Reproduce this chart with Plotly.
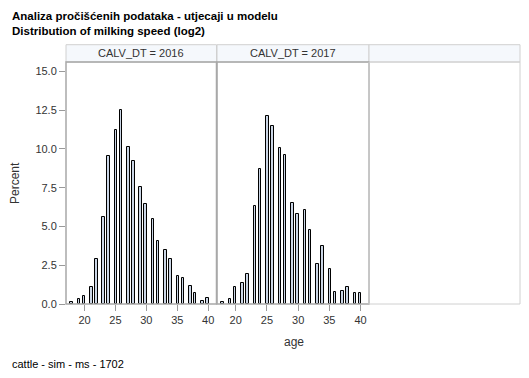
import plotly.graph_objects as go

# ---- data ----
ages = list(range(18, 41))
# histogram bin centres (bin width 0.4) on the age axis
bin_mid = [17.9, 19.1, 19.9, 21.1, 21.9, 23.1, 23.9, 25.1, 25.9, 27.1, 27.9, 29.1,
           29.9, 31.1, 31.9, 33.1, 33.9, 35.1, 35.9, 37.1, 37.9, 39.1, 39.9]
pct_2016 = [0.15, 0.34, 0.54, 1.12, 2.87, 5.58, 9.53, 11.21, 12.50, 10.11, 9.20, 7.52,
            6.42, 5.47, 4.03, 3.45, 2.93, 1.79, 1.70, 1.19, 0.69, 0.22, 0.41]
pct_2017 = [0.15, 0.34, 1.12, 1.38, 1.92, 6.29, 8.69, 12.13, 11.47, 10.04, 9.59, 6.49,
            5.78, 6.03, 4.74, 2.61, 3.77, 2.28, 0.80, 0.86, 1.12, 0.73, 0.73]
panel_labels = ["CALV_DT = 2016", "CALV_DT = 2017", ""]
y_ticks = [0.0, 2.5, 5.0, 7.5, 10.0, 12.5, 15.0]
x_ticks = [20, 25, 30, 35, 40]

# page body has an 8px margin; work in window pixels and shift
OX, OY = 8, 8
W, H = 529 - 2 * OX, 378 - 2 * OY
L, R, T, B = 66, 520, 62, 304          # plot area in window pixels
PW, PH = R - L, B - T

def px(x):
    return (x - L) / PW

def py(y):
    return (B - y) / PH

FONT = "Liberation Sans, Arial, sans-serif"
TXT = "#333333"

fig = go.Figure()
bar_style = dict(marker=dict(color="#cbd6e6", line=dict(color="black", width=1)),
                 width=0.42, showlegend=False, hoverinfo="x+y")
fig.add_trace(go.Bar(x=bin_mid, y=pct_2016, xaxis="x", yaxis="y", **bar_style))
fig.add_trace(go.Bar(x=bin_mid, y=pct_2017, xaxis="x2", yaxis="y", **bar_style))

panel_px = [(66, 216.5), (217, 369), (369, 520)]
doms = [[px(a), px(b)] for a, b in panel_px]

xcommon = dict(range=[17.0, 41.35], tickvals=x_ticks, ticks="outside", ticklen=6,
               tickcolor="#999999", showgrid=False, zeroline=False, showline=False,
               tickfont=dict(family=FONT, size=11, color=TXT))
fig.update_layout(
    width=W, height=H,
    margin=dict(l=L - OX, r=(W + OX) - R, t=T - OY, b=(H + OY) - B, pad=0),
    paper_bgcolor="white", plot_bgcolor="white",
    bargap=0,
    xaxis=dict(domain=doms[0], anchor="y", **xcommon),
    xaxis2=dict(domain=doms[1], anchor="y", **xcommon),
    xaxis3=dict(domain=doms[2], anchor="y", range=[17.0, 41.35], showticklabels=False,
                ticks="", showgrid=False, zeroline=False, showline=False),
    yaxis=dict(range=[0, 15.6], tickvals=y_ticks, tickformat=".1f", ticks="outside",
               ticklen=6, tickcolor="#999999", showgrid=False, zeroline=False,
               showline=False, tickfont=dict(family=FONT, size=11, color=TXT)),
)

shapes = []
ann = []
hdr_top = py(44.7)
for i, ((a, b), lab) in enumerate(zip(panel_px, panel_labels)):
    shapes.append(dict(type="rect", xref="paper", yref="paper", x0=px(a), x1=px(b),
                       y0=1, y1=hdr_top, fillcolor="#f5f8fc",
                       line=dict(color="#d0d0d0", width=1), layer="below"))
    col = "#a8a8a8" if i < 2 else "#d0d0d0"
    shapes.append(dict(type="rect", xref="paper", yref="paper", x0=px(a), x1=px(b),
                       y0=0, y1=1, line=dict(color=col, width=1.5 if i < 2 else 1),
                       layer="above"))
    if lab:
        ann.append(dict(text=lab, xref="paper", yref="paper", x=(px(a) + px(b)) / 2,
                        y=(1 + hdr_top) / 2, showarrow=False, xanchor="center",
                        yanchor="middle", font=dict(family=FONT, size=11, color=TXT)))

ann += [
    dict(text="<b>Analiza pročišćenih podataka - utjecaji u modelu</b>", xref="paper",
         yref="paper", x=px(10), y=py(16), xanchor="left", yanchor="middle",
         showarrow=False, font=dict(family=FONT, size=11.5, color="black")),
    dict(text="<b>Distribution of milking speed (log2)</b>", xref="paper",
         yref="paper", x=px(10), y=py(31), xanchor="left", yanchor="middle",
         showarrow=False, font=dict(family=FONT, size=11.5, color="black")),
    dict(text="Percent", xref="paper", yref="paper", x=px(15), y=py(183),
         xanchor="center", yanchor="middle", textangle=-90, showarrow=False,
         font=dict(family=FONT, size=12, color=TXT)),
    dict(text="age", xref="paper", yref="paper", x=px(294), y=py(342),
         xanchor="center", yanchor="middle", showarrow=False,
         font=dict(family=FONT, size=12, color=TXT)),
    dict(text="cattle - sim - ms - 1702", xref="paper", yref="paper", x=px(10),
         y=py(364), xanchor="left", yanchor="middle", showarrow=False,
         font=dict(family=FONT, size=11, color="black")),
]
fig.update_layout(shapes=shapes, annotations=ann)

fig.write_html("out.html")
